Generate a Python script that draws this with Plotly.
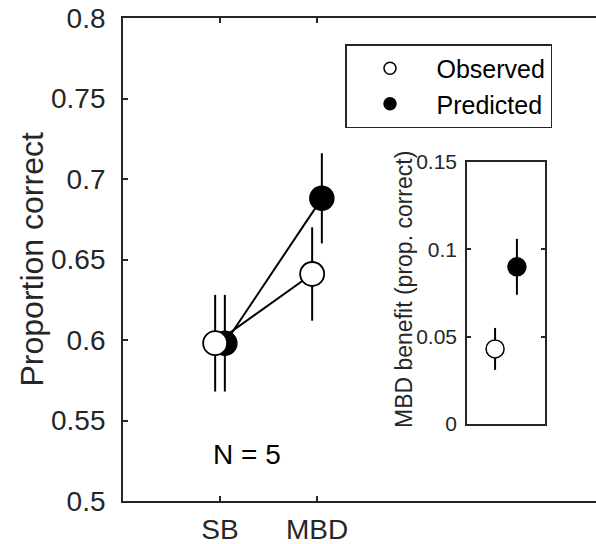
import plotly.graph_objects as go

# ---- data ----
conditions = ["SB", "MBD"]
cond_pos = [1, 2]
observed = [0.598, 0.641]
observed_err = [0.030, 0.029]
predicted = [0.598, 0.688]
predicted_err = [0.030, 0.028]

benefit_labels = ["Observed", "Predicted"]
benefit_vals = [0.043, 0.090]
benefit_err = [0.012, 0.016]

main_yticks = [0.5, 0.55, 0.6, 0.65, 0.7, 0.75, 0.8]
main_yticktext = ["0.5", "0.55", "0.6", "0.65", "0.7", "0.75", "0.8"]
inset_yticks = [0, 0.05, 0.1, 0.15]
inset_yticktext = ["0", "0.05", "0.1", "0.15"]

# ---- style ----
W, H = 596, 544
ML, MR, MT, MB = 123, 0, 18, 43
AX = "#262626"
FONT = "Liberation Sans, Arial, Helvetica, sans-serif"
offset = 0.05
obs_x = [p - offset for p in cond_pos]
pred_x = [p + offset for p in cond_pos]

fig = go.Figure()

# connecting lines (under markers)
fig.add_trace(go.Scatter(x=pred_x, y=predicted, mode="lines",
                         line=dict(color="black", width=2), showlegend=False, hoverinfo="skip"))
fig.add_trace(go.Scatter(x=obs_x, y=observed, mode="lines",
                         line=dict(color="black", width=2), showlegend=False, hoverinfo="skip"))
# predicted markers
fig.add_trace(go.Scatter(x=pred_x, y=predicted, mode="markers",
                         marker=dict(size=24, color="black", line=dict(color="black", width=1.5)),
                         error_y=dict(type="data", array=predicted_err, thickness=2, width=0, color="black"),
                         showlegend=False))
# observed markers
fig.add_trace(go.Scatter(x=obs_x, y=observed, mode="markers",
                         marker=dict(size=24, color="white", line=dict(color="black", width=1.8)),
                         error_y=dict(type="data", array=observed_err, thickness=2, width=0, color="black"),
                         showlegend=False))

# legend entries
fig.add_trace(go.Scatter(x=[None], y=[None], mode="markers", name="Observed",
                         marker=dict(size=12, color="white", line=dict(color="black", width=1.5))))
fig.add_trace(go.Scatter(x=[None], y=[None], mode="markers", name="Predicted",
                         marker=dict(size=12, color="black", line=dict(color="black", width=1.5))))

# inset
inset_x = [0.36, 0.64]
fig.add_trace(go.Scatter(x=[inset_x[0]], y=[benefit_vals[0]], mode="markers", xaxis="x2", yaxis="y2",
                         marker=dict(size=18, color="white", line=dict(color="black", width=1.5)),
                         error_y=dict(type="data", array=[benefit_err[0]], thickness=2, width=0, color="black"),
                         showlegend=False))
fig.add_trace(go.Scatter(x=[inset_x[1]], y=[benefit_vals[1]], mode="markers", xaxis="x2", yaxis="y2",
                         marker=dict(size=18, color="black", line=dict(color="black", width=1.5)),
                         error_y=dict(type="data", array=[benefit_err[1]], thickness=2, width=0, color="black"),
                         showlegend=False))

pw = W - ML - MR
ph = H - MT - MB
def px_x(p):
    return (p - ML) / pw
def px_y(p):
    return (H - MB - p) / ph

fig.update_layout(
    width=W, height=H,
    margin=dict(l=ML, r=MR, t=MT, b=MB, pad=0),
    paper_bgcolor="white", plot_bgcolor="white",
    font=dict(family=FONT, color=AX),
    xaxis=dict(range=[0, (W - ML) / 97.0], tickvals=cond_pos, ticktext=conditions,
               ticks="inside", ticklen=5, tickwidth=1.8, tickcolor=AX,
               showline=True, linewidth=1.8, linecolor=AX, mirror="ticks",
               showgrid=False, zeroline=False, tickfont=dict(size=28, color=AX),
               ticklabelstandoff=2, domain=[0, 1], automargin=False),
    yaxis=dict(range=[0.5, 0.8], tickvals=main_yticks, ticktext=main_yticktext,
               ticks="inside", ticklen=5, tickwidth=1.8, tickcolor=AX,
               showline=True, linewidth=1.8, linecolor=AX, mirror=False,
               showgrid=False, zeroline=False, tickfont=dict(size=28, color=AX),
               ticklabelstandoff=10, automargin=False),
    xaxis2=dict(domain=[px_x(467), px_x(545)], anchor="y2", range=[0, 1],
                showticklabels=False, ticks="", showline=True, linewidth=1.5, linecolor=AX,
                mirror=True, showgrid=False, zeroline=False, automargin=False),
    yaxis2=dict(domain=[px_y(424), px_y(162)], anchor="x2", range=[0, 0.15],
                tickvals=inset_yticks, ticktext=inset_yticktext,
                ticks="inside", ticklen=4, tickwidth=1.5, tickcolor=AX,
                showline=True, linewidth=1.5, linecolor=AX, mirror="ticks",
                showgrid=False, zeroline=False, tickfont=dict(size=21, color=AX),
                ticklabelstandoff=4, automargin=False),
    legend=dict(x=px_x(345), xanchor="left", y=px_y(44), yanchor="top",
                bordercolor=AX, borderwidth=1.5, bgcolor="white",
                font=dict(size=25, color="black", family=FONT),
                indentation=-3, itemwidth=83, tracegroupgap=0),
    annotations=[
        dict(text="Proportion correct", x=px_x(31), y=0.5, xref="paper", yref="paper",
             textangle=-90, showarrow=False, font=dict(size=32, color=AX),
             xanchor="center", yanchor="middle"),
        dict(text="MBD benefit (prop. correct)", x=px_x(404), y=px_y(290), xref="paper", yref="paper",
             textangle=-90, showarrow=False, font=dict(size=23, color=AX),
             xanchor="center", yanchor="middle"),
        dict(text="N = 5", x=px_x(247), y=px_y(454), xref="paper", yref="paper",
             showarrow=False, font=dict(size=28, color="black"),
             xanchor="center", yanchor="middle"),
    ],
)

fig.write_html("out.html", config={"displayModeBar": False},
               post_script="document.body.style.margin='0';document.body.style.padding='0';")
